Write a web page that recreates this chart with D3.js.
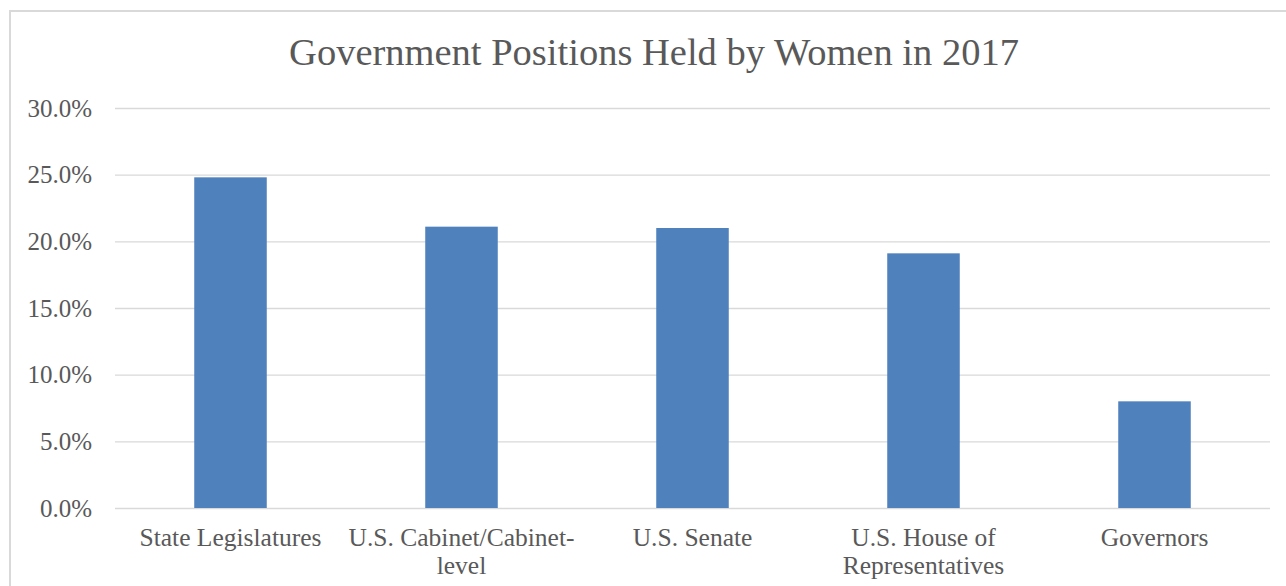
<!DOCTYPE html>
<html>
<head>
<meta charset="utf-8">
<script src="https://cdn.jsdelivr.net/npm/d3@7"></script>
<style>
  html, body { margin: 0; padding: 0; background: #fff; }
  svg { display: block; }
</style>
</head>
<body>
<svg id="chart" width="1286" height="586"></svg>
<script>
const title = "Government Positions Held by Women in 2017";
const categories = ["State Legislatures", "U.S. Cabinet/Cabinet-level", "U.S. Senate", "U.S. House of Representatives", "Governors"];
const values = [24.8, 21.1, 21.0, 19.1, 8.0];
const yTicks = [0, 5, 10, 15, 20, 25, 30];

const W = 1286, H = 586;
const margin = { left: 115, right: 16, top: 108, bottom: 78 };
const font = "'Liberation Serif', 'DejaVu Serif', serif";
const textColor = "#595959";
const gridColor = "#d9d9d9";
const barColor = "#4f81bd";

const svg = d3.select("#chart");

// Outer frame
svg.append("rect")
  .attr("x", 10).attr("y", 11)
  .attr("width", W + 20).attr("height", H + 20)
  .attr("fill", "#fff")
  .attr("stroke", gridColor).attr("stroke-width", 2);

const x = d3.scaleBand()
  .domain(categories)
  .range([margin.left, W - margin.right])
  .paddingInner(0.686).paddingOuter(0.343);

const y = d3.scaleLinear()
  .domain([0, 30])
  .range([H - margin.bottom, margin.top]);

// Gridlines
const yAxis = d3.axisLeft(y)
  .tickValues(yTicks)
  .tickSize(-(W - margin.right - margin.left))
  .tickPadding(23)
  .tickFormat(d => d3.format(".1f")(d) + "%");

const gy = svg.append("g")
  .attr("transform", `translate(${margin.left},0)`)
  .call(yAxis);
gy.select(".domain").remove();
gy.selectAll(".tick line").attr("stroke", gridColor).attr("stroke-width", 1.4);
gy.selectAll(".tick text")
  .attr("fill", textColor)
  .attr("font-family", font)
  .attr("font-size", 25)
  .attr("dy", "0.33em");

// Bars
svg.append("g")
  .selectAll("rect")
  .data(categories)
  .join("rect")
  .attr("x", d => x(d))
  .attr("width", x.bandwidth())
  .attr("y", (d, i) => y(values[i]))
  .attr("height", (d, i) => y(0) - y(values[i]))
  .attr("fill", barColor);

// X axis labels (wrapped)
const xAxis = d3.axisBottom(x).tickSize(0).tickPadding(0);
const gx = svg.append("g")
  .attr("transform", `translate(0,${y(0)})`)
  .call(xAxis);
gx.select(".domain").remove();
gx.selectAll(".tick text")
  .attr("fill", textColor)
  .attr("font-family", font)
  .attr("font-size", 25.5)
  .attr("y", 0)
  .attr("dy", 0)
  .each(function(d) {
    const t = d3.select(this);
    t.text(null);
    // break after spaces and after hyphens
    const tokens = d.match(/[^\s-]+-?|\s+/g).filter(s => s.trim().length);
    const maxW = x.step();
    const lines = [];
    let cur = "";
    const probe = t.append("tspan");
    const measure = s => { probe.text(s); return probe.node().getComputedTextLength(); };
    for (let i = 0; i < tokens.length; i++) {
      const tok = tokens[i];
      const joiner = cur === "" ? "" : (cur.endsWith("-") ? "" : " ");
      const cand = cur + joiner + tok;
      if (cur !== "" && measure(cand) > maxW) {
        lines.push(cur);
        cur = tok;
      } else {
        cur = cand;
      }
    }
    if (cur) lines.push(cur);
    probe.remove();
    lines.forEach((ln, i) => {
      t.append("tspan")
        .attr("x", 0)
        .attr("y", 38 + i * 27.5)
        .text(ln);
    });
  });

// Title
svg.append("text")
  .attr("x", 654)
  .attr("y", 65)
  .attr("text-anchor", "middle")
  .attr("fill", textColor)
  .attr("font-family", font)
  .attr("font-size", 38.5)
  .text(title);
</script>
</body>
</html>
